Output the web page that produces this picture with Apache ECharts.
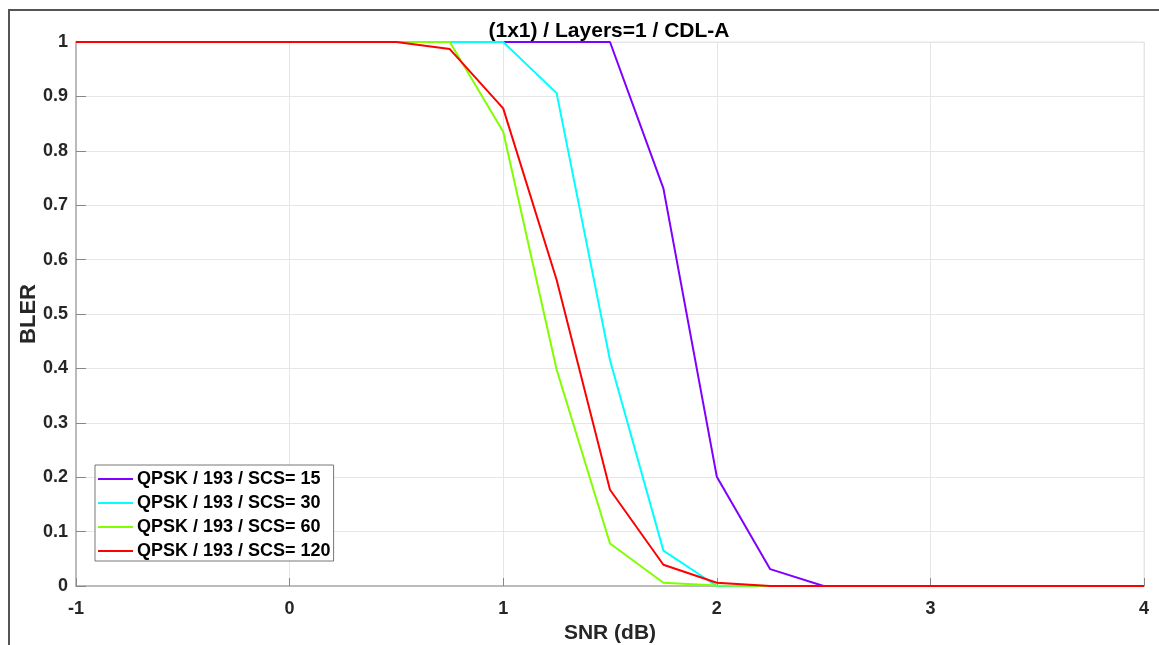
<!DOCTYPE html>
<html>
<head>
<meta charset="utf-8">
<script src="https://cdn.jsdelivr.net/npm/echarts@6/dist/echarts.min.js"></script>
<style>
  html, body {margin: 0; padding: 0; background: #fff; overflow: hidden;}
  #frame {position: absolute; left: 8px; top: 9px; width: 1151px; height: 636px;
    border-left: 2px solid #555; border-top: 2px solid #555;}
  #main {position: absolute; left: 0; top: 0; width: 1159px; height: 645px;}
</style>
</head>
<body>
<div id="frame"></div>
<div id="main"></div>
<script>
// SNR points (dB)
const snr = [-1, -0.75, -0.5, -0.25, 0, 0.25, 0.5, 0.75, 1, 1.25, 1.5, 1.75, 2, 2.25, 2.5, 2.75, 3, 3.25, 3.5, 3.75, 4];
const names = ['QPSK / 193 / SCS= 15', 'QPSK / 193 / SCS= 30', 'QPSK / 193 / SCS= 60', 'QPSK / 193 / SCS= 120'];
const colors = ['#7f00ff', '#00ffff', '#80ff00', '#ff0000'];
const bler15 = [1, 1, 1, 1, 1, 1, 1, 1, 1, 1, 1, 0.731, 0.201, 0.031, 0, 0, 0, 0, 0, 0, 0];
const bler30 = [1, 1, 1, 1, 1, 1, 1, 1, 1, 0.906, 0.415, 0.065, 0, 0, 0, 0, 0, 0, 0, 0, 0];
const bler60 = [1, 1, 1, 1, 1, 1, 1, 1, 0.835, 0.398, 0.078, 0.006, 0.001, 0, 0, 0, 0, 0, 0, 0, 0];
const bler120 = [1, 1, 1, 1, 1, 1, 1, 0.987, 0.878, 0.563, 0.177, 0.039, 0.006, 0, 0, 0, 0, 0, 0, 0, 0];
const allData = [bler15, bler30, bler60, bler120];

const chart = echarts.init(document.getElementById('main'));
const axisFont = {fontFamily: '"Liberation Sans", Arial, sans-serif', fontWeight: 'bold', color: '#262626'};

chart.setOption({
  animation: false,
  title: {
    text: '(1x1) / Layers=1 / CDL-A',
    left: 604, top: 16, textAlign: 'center',
    textStyle: {...axisFont, fontSize: 21, color: '#000'}
  },
  grid: {left: 76, right: 15, top: 42, height: 544, containLabel: false,
    outerBoundsMode: 'none',
    show: true, borderColor: '#e6e6e6', borderWidth: 1},
  legend: {
    orient: 'vertical', left: 95, top: 465,
    data: names,
    icon: 'rect', itemWidth: 35, itemHeight: 2, itemGap: 6,
    padding: [5, 3, 1, 3],
    borderColor: '#777', borderWidth: 1, backgroundColor: '#fff',
    textStyle: {...axisFont, fontSize: 18, color: '#000', padding: [0, 0, 0, -1]}
  },
  xAxis: {
    type: 'value', min: -1, max: 4, interval: 1,
    name: 'SNR (dB)', nameLocation: 'middle', nameGap: 37, nameMoveOverlap: false,
    nameTextStyle: {...axisFont, fontSize: 21},
    axisLine: {show: true, onZero: false, lineStyle: {color: '#bbb', width: 2}},
    axisTick: {show: true, inside: true, length: 8, lineStyle: {color: '#888'}},
    axisLabel: {...axisFont, fontSize: 18, margin: 14},
    splitLine: {show: true, lineStyle: {color: '#e6e6e6'}}
  },
  yAxis: {
    type: 'value', min: 0, max: 1, interval: 0.1,
    name: 'BLER', nameLocation: 'middle', nameGap: 36, nameMoveOverlap: false,
    nameTextStyle: {...axisFont, fontSize: 22},
    axisLine: {show: true, onZero: false, lineStyle: {color: '#bbb', width: 2}},
    axisTick: {show: true, inside: true, length: 10, lineStyle: {color: '#888'}},
    axisLabel: {...axisFont, fontSize: 18, margin: 8,
      formatter: v => String(Math.round(v * 10) / 10)},
    splitLine: {show: true, lineStyle: {color: '#e6e6e6'}}
  },
  series: names.map((n, i) => ({
    name: n, type: 'line', symbol: 'none',
    data: snr.map((x, k) => [x, allData[i][k]]),
    lineStyle: {color: colors[i], width: 2},
    itemStyle: {color: colors[i]},
    z: 3 + i
  }))
});
</script>
</body>
</html>
